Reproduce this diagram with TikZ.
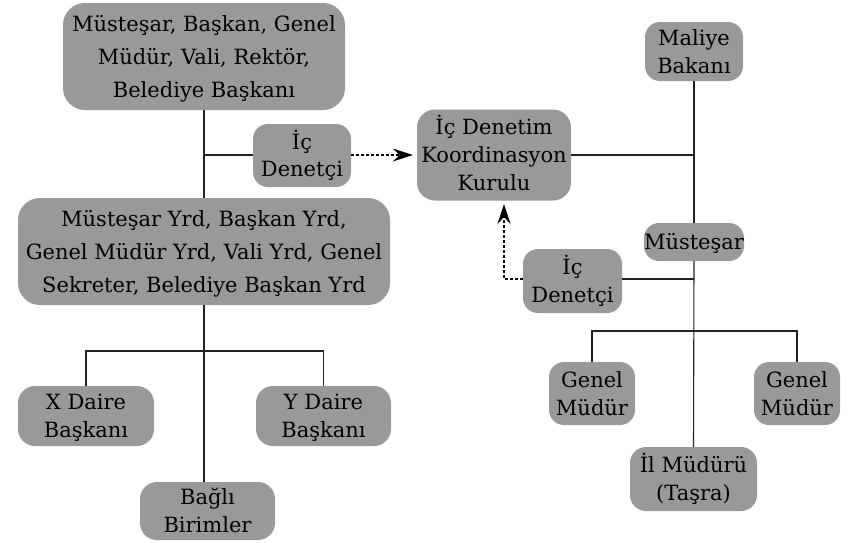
\documentclass[tikz,border=0pt]{standalone}
\usepackage{fontspec}
\setmainfont{DejaVu Serif}
\usetikzlibrary{arrows.meta}
\definecolor{boxgray}{RGB}{153,153,153}
\definecolor{linegray}{RGB}{35,35,35}
% text height = cap height (15pt) + (lines-1) * baselineskip, so the
% capitals of the whole block sit centred in each box
\tikzset{
  unit/.style={fill=boxgray, rounded corners=#1, inner sep=0pt, align=center,
    text depth=0pt, font=\fontsize{21}{28}\selectfont},
  unit/.default=18pt,
  one/.style={text height=15pt},
  two/.style={text height=43pt},
  three/.style={text height=71pt},
  wide/.style={font=\fontsize{21}{33}\selectfont, text height=81pt},
  link/.style={draw=linegray, line width=1.1pt},
  report/.style={draw=black, line width=1.1pt, dash pattern=on 3pt off 2pt,
    -{Stealth[length=20pt,width=13pt,inset=7pt]}, shorten >=4pt}
}
\begin{document}
\begin{tikzpicture}[x=1pt,y=-1pt]
\useasboundingbox (0,0) rectangle (848,542);

% left hierarchy
\node[unit=22pt, wide, minimum width=282pt, minimum height=107pt] (top) at (204,56.5)
  {Müsteşar, Başkan, Genel\\Müdür, Vali, Rektör,\\Belediye Başkanı};
\node[unit=15pt, font=\fontsize{21}{26.5}\selectfont, text height=41.5pt,
  minimum width=98pt, minimum height=63pt] (ic1) at (302,155.5)
  {İç\\Denetçi};
\node[unit=22pt, wide, minimum width=372pt, minimum height=107pt] (yrd) at (204,251.5)
  {Müsteşar Yrd, Başkan Yrd,\\Genel Müdür Yrd, Vali Yrd, Genel\\Sekreter, Belediye Başkan Yrd};
\node[unit=17pt, two, minimum width=136pt, minimum height=60pt] (xd) at (86,416)
  {X Daire\\Başkanı};
\node[unit=17pt, two, minimum width=135pt, minimum height=60pt] (yd) at (323.5,416)
  {Y Daire\\Başkanı};
\node[unit=17pt, two, minimum width=135pt, minimum height=58pt] (bagli) at (207.5,511)
  {Bağlı\\Birimler};

% coordination board
\node[unit=18pt, three, minimum width=154pt, minimum height=91pt] (kurul) at (494,155)
  {İç Denetim\\Koordinasyon\\Kurulu};

% right hierarchy
\node[unit=15pt, two, minimum width=98pt, minimum height=59pt] (maliye) at (694,51.5)
  {Maliye\\Bakanı};
\node[unit=15pt, one, minimum width=98pt, minimum height=38pt] (must) at (694,242)
  {Müsteşar};
\node[unit=15pt, two, minimum width=99pt, minimum height=64pt] (ic2) at (572.5,281)
  {İç\\Denetçi};
\node[unit=15pt, two, minimum width=86pt, minimum height=63pt] (gm1) at (592,393.5)
  {Genel\\Müdür};
\node[unit=15pt, two, minimum width=86pt, minimum height=63pt] (gm2) at (797,393.5)
  {Genel\\Müdür};
\node[unit=16pt, two, minimum width=127pt, minimum height=64pt] (il) at (693.5,479)
  {İl Müdürü\\(Taşra)};

% junction points
\coordinate (jl) at (204,155);
\coordinate (bl) at (204,351);
\coordinate (jr) at (694,155);
\coordinate (ir) at (694,279);
\coordinate (br) at (694,331);
\coordinate (up) at (504,200);

% left connectors
\draw[link] (top.south) -- (yrd.north);
\draw[link] (jl) -- (jl -| ic1.west);
\draw[link] (yrd.south) -- (yrd.south |- bagli.north);
\draw[link] (xd.north) |- (bl) -| (yd.north);

% right connectors
\draw[link] (maliye.south) -- (must.north);
\draw[link] (jr -| kurul.east) -- (jr);
\draw[link] (must.south) -- (il.north);
\draw[link] (ic2.east |- ir) -- (ir);
\draw[link] (gm1.north) |- (br) -| (gm2.north);

% reporting lines
\draw[report] (jl -| ic1.east) -- (jl -| kurul.west);
\draw[report] (ic2.west |- ir) -| (up);
\end{tikzpicture}
\end{document}
